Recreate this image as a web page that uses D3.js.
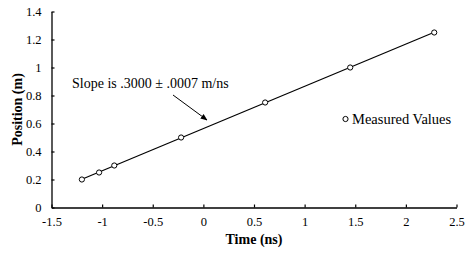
<!DOCTYPE html>
<html><head><meta charset="utf-8">
<script src="https://cdn.jsdelivr.net/npm/d3@7"></script>
<style>body{margin:0;background:#fff}svg text{font-family:'Liberation Serif','Times New Roman',Times,'DejaVu Serif',serif !important}</style>
</head><body><svg id="c" width="471" height="255"></svg>
<script>
const timeNs = [-1.2, -1.03, -0.88, -0.22, 0.61, 1.45, 2.28];
const positionM = [0.2, 0.25, 0.3, 0.5, 0.75, 1.0, 1.25];
const xTicks = [-1.5, -1, -0.5, 0, 0.5, 1, 1.5, 2, 2.5];
const yTicks = [0, 0.2, 0.4, 0.6, 0.8, 1, 1.2, 1.4];
const annotation = "Slope is .3000 \u00b1 .0007 m/ns";
const legendLabel = "Measured Values";

const svg = d3.select("#c");
const x = d3.scaleLinear().domain([-1.5, 2.5]).range([51.5, 456.5]);
const y = d3.scaleLinear().domain([0, 1.4]).range([207.5, 11.5]);

const xa = svg.append("g").attr("transform", `translate(0,${y(0)})`)
  .call(d3.axisBottom(x).tickValues(xTicks).tickSizeInner(-3).tickSizeOuter(0).tickPadding(10).tickFormat(d => String(d)));
const ya = svg.append("g").attr("transform", `translate(${x(-1.5)},0)`)
  .call(d3.axisLeft(y).tickValues(yTicks).tickSizeInner(-3).tickSizeOuter(0).tickPadding(10).tickFormat(d => String(d)));
[xa, ya].forEach(g => {
  g.attr("font-family", null);
  g.select(".domain").attr("stroke", "#000").attr("stroke-width", 1.3);
  g.selectAll(".tick line").attr("stroke", "#000").attr("stroke-width", 1.2);
  g.selectAll("text").attr("font-size", 12.5).attr("fill", "#000");
});

// least squares fit
const mx = d3.mean(timeNs), my = d3.mean(positionM);
const slope = d3.sum(timeNs.map((t, i) => (t - mx) * (positionM[i] - my))) / d3.sum(timeNs.map(t => (t - mx) ** 2));
const icpt = my - slope * mx;
const ext = d3.extent(timeNs);
svg.append("path").attr("d", d3.line()(ext.map(t => [x(t), y(slope * t + icpt)])))
  .attr("stroke", "#000").attr("stroke-width", 1.2).attr("fill", "none");

svg.selectAll("circle.pt").data(timeNs).join("circle").attr("class", "pt")
  .attr("cx", d => x(d)).attr("cy", (d, i) => y(positionM[i])).attr("r", 2.6)
  .attr("fill", "#fff").attr("stroke", "#000").attr("stroke-width", 1);

// annotation
svg.append("text").attr("x", 72).attr("y", 88).attr("font-size", 14).text(annotation);
svg.append("defs").append("marker").attr("id", "ah").attr("viewBox", "0 0 10 10").attr("refX", 9).attr("refY", 5)
  .attr("markerWidth", 7).attr("markerHeight", 7).attr("orient", "auto")
  .append("path").attr("d", "M0,1L10,5L0,9z").attr("fill", "#000");
svg.append("line").attr("x1", 173).attr("y1", 95).attr("x2", 207).attr("y2", 120)
  .attr("stroke", "#000").attr("stroke-width", 1).attr("marker-end", "url(#ah)");

// legend
svg.append("circle").attr("cx", 345.5).attr("cy", 119).attr("r", 2.6).attr("fill", "#fff").attr("stroke", "#000");
svg.append("text").attr("x", 352).attr("y", 124).attr("font-size", 14.5).text(legendLabel);

// axis titles
svg.append("text").attr("x", x(0.5)).attr("y", 244).attr("text-anchor", "middle")
  .attr("font-weight", "bold").attr("font-size", 14).text("Time (ns)");
svg.append("text").attr("transform", `translate(22,${y(0.7)}) rotate(-90)`).attr("text-anchor", "middle")
  .attr("font-weight", "bold").attr("font-size", 14).text("Position (m)");
</script></body></html>
